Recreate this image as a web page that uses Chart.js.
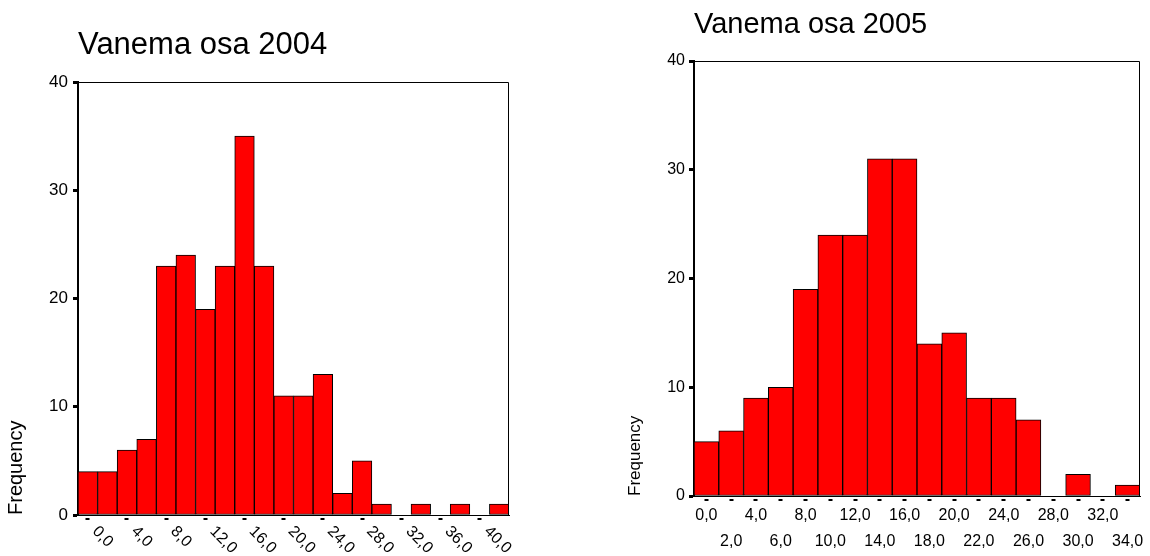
<!DOCTYPE html>
<html>
<head>
<meta charset="utf-8">
<title>Vanema osa 2004 / 2005</title>
<script src="https://cdn.jsdelivr.net/npm/chart.js@4.4.1/dist/chart.umd.min.js"></script>
<style>
  html, body { margin: 0; padding: 0; background: #fff; }
  .box { position: absolute; top: 0; width: 575px; height: 556px; }
  #left { left: 0; }
  #right { left: 575px; }
</style>
</head>
<body>
<div class="box" id="left"><canvas id="chart2004" width="575" height="556"></canvas></div>
<div class="box" id="right"><canvas id="chart2005" width="575" height="556"></canvas></div>
<script>
// histogram bins (midpoints) and counts
const bins2004 = ['0,0','2,0','4,0','6,0','8,0','10,0','12,0','14,0','16,0','18,0','20,0',
                  '22,0','24,0','26,0','28,0','30,0','32,0','34,0','36,0','38,0','40,0','42,0']
const freq2004 = [4,4,6,7,23,24,19,23,35,23,11,11,13,2,5,1,0,1,0,1,0,1]

const bins2005 = ['0,0','2,0','4,0','6,0','8,0','10,0','12,0','14,0','16,0','18,0',
                  '20,0','22,0','24,0','26,0','28,0','30,0','32,0','34,0']
const freq2005 = [5,6,9,10,19,24,24,31,31,14,15,9,9,7,0,2,0,1]

const yTicks = [0,10,20,30,40]

Chart.defaults.font.family = '"Liberation Sans", Arial, sans-serif'
Chart.defaults.color = '#000'

// thin box round the plot area (top + right, the axes do the rest)
const frame = {
  id: 'frame',
  afterDatasetsDraw(chart) {
    const {ctx, chartArea: a} = chart
    ctx.save()
    ctx.strokeStyle = '#000'
    ctx.lineWidth = 1
    ctx.beginPath()
    ctx.moveTo(a.left, a.top + 0.5)
    ctx.lineTo(a.right - 0.5, a.top + 0.5)
    ctx.lineTo(a.right - 0.5, a.bottom)
    ctx.stroke()
    ctx.restore()
  }
}

// 2004 chart has its x labels turned 45deg clockwise, Chart.js only turns the other way
const slantedLabels = {
  id: 'slantedLabels',
  afterDraw(chart) {
    const x = chart.scales.x
    const ctx = chart.ctx
    ctx.save()
    ctx.fillStyle = '#000'
    ctx.font = '16px "Liberation Sans", Arial, sans-serif'
    ctx.textAlign = 'left'
    ctx.textBaseline = 'middle'
    bins2004.forEach((lab, i) => {
      if (i % 2) return
      if (i > 20) return
      ctx.save()
      ctx.translate(x.getPixelForTick(i) + 7, x.top + 14)
      ctx.rotate(Math.PI / 4)
      ctx.fillText(lab, 0, 0)
      ctx.restore()
    })
    ctx.restore()
  }
}

function histogram(id, o) {
  return new Chart(document.getElementById(id), {
    type: 'bar',
    data: {
      labels: o.bins,
      datasets: [{
        data: o.freq,
        backgroundColor: '#ff0000',
        borderColor: '#000',
        borderWidth: 1,
        borderSkipped: false,
        barPercentage: 1,
        categoryPercentage: 1
      }]
    },
    options: {
      responsive: false,
      animation: false,
      events: [],
      layout: {padding: {left: 0, right: o.padRight, top: 0, bottom: 0}},
      plugins: {
        legend: {display: false},
        tooltip: {enabled: false},
        title: {
          display: true,
          text: o.title,
          align: 'start',
          fullSize: false,
          color: '#000',
          font: {size: o.titleSize, weight: 'normal', lineHeight: 1},
          padding: o.titlePad
        }
      },
      scales: {
        x: {
          afterFit: s => { s.height = o.xHeight },
          grid: {
            offset: false,
            drawOnChartArea: false,
            tickLength: 5,
            tickWidth: 4,
            tickBorderDash: [0, 2, 3, 20],
            tickColor: ctx => (o.everyOther && ctx.index % 2) ? 'rgba(0,0,0,0)' : '#000'
          },
          border: {display: true, color: '#000', width: 1},
          ticks: o.xTicks
        },
        y: {
          min: 0,
          max: 40,
          afterBuildTicks: s => { s.ticks = yTicks.map(v => ({value: v})) },
          afterFit: s => { s.width = o.yWidth },
          grid: {drawOnChartArea: false, tickLength: 5, tickWidth: 3, tickColor: '#000'},
          border: {display: true, color: '#000', width: 2},
          ticks: {font: {size: o.yTickSize}, padding: o.yTickPad, color: '#000'},
          title: {
            display: true,
            text: 'Frequency',
            align: 'start',
            color: '#000',
            font: {size: o.yTitleSize, lineHeight: 1},
            padding: {top: o.yTitlePad, bottom: 0}
          }
        }
      }
    },
    plugins: o.plugins
  })
}

histogram('chart2004', {
  bins: bins2004,
  freq: freq2004,
  title: 'Vanema osa 2004',
  titleSize: 31,
  titlePad: {top: 30, bottom: 21},
  padRight: 66,
  xHeight: 41,
  yWidth: 78,
  yTickSize: 17,
  yTickPad: 5,
  yTitleSize: 20,
  yTitlePad: 6,
  everyOther: true,
  xTicks: {display: false, autoSkip: false},
  plugins: [frame, slantedLabels]
})

histogram('chart2005', {
  bins: bins2005,
  freq: freq2005,
  title: 'Vanema osa 2005',
  titleSize: 29,
  titlePad: {top: 10, bottom: 22},
  padRight: 10,
  xHeight: 60,
  yWidth: 119,
  yTickSize: 16,
  yTickPad: 4,
  yTitleSize: 17,
  yTitlePad: 52,
  everyOther: false,
  xTicks: {
    autoSkip: false,
    maxRotation: 0,
    minRotation: 0,
    padding: 2,
    font: {size: 16, lineHeight: 1.6},
    // odd bins go on a second row, as in the original
    callback: (v, i) => i % 2 ? ['', bins2005[i]] : bins2005[i]
  },
  plugins: [frame]
})
</script>
</body>
</html>
